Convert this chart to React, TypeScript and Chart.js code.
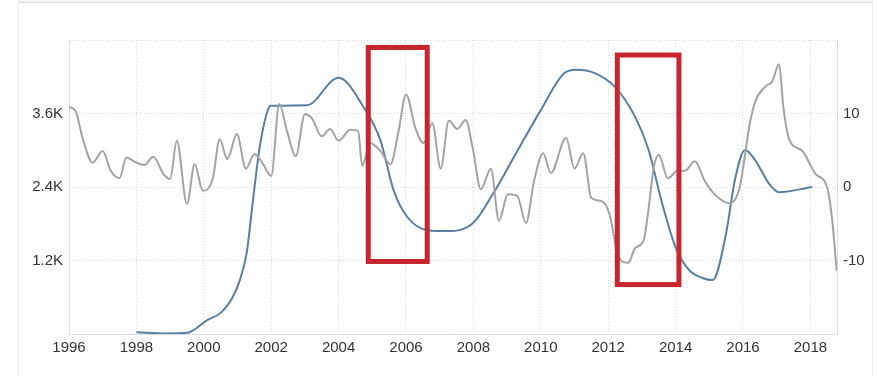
import React, { useEffect, useRef } from "react";
import { Chart, registerables } from "chart.js";

Chart.register(...registerables);

// Blue series (left axis, thousands)
const blueYears = [1998.0, 1998.9, 1999.5, 2000.1, 2000.5, 2000.86, 2001.07, 2001.27, 2001.47, 2001.66, 2001.87, 2001.98, 2003.06, 2004.0, 2004.73, 2005.24, 2005.63, 2006.04, 2006.64, 2007.24, 2008.0, 2008.6, 2009.2, 2010.0, 2010.7, 2011.05, 2011.6, 2012.2, 2012.8, 2013.2, 2013.6, 2014.0, 2014.4, 2014.8, 2015.1, 2015.5, 2015.76, 2016.06, 2016.36, 2016.76, 2017.07, 2018.06];
const blueValues = [30, 10, 20, 225, 345, 605, 880, 1315, 2235, 3055, 3605, 3725, 3735, 4185, 3715, 3165, 2350, 1910, 1695, 1680, 1815, 2305, 2885, 3655, 4260, 4315, 4260, 4035, 3545, 3005, 2135, 1415, 1045, 915, 880, 1645, 2515, 3005, 2840, 2465, 2315, 2400];

// Gray series (right axis)
const grayYears = [1996.0, 1996.2, 1996.4, 1996.7, 1997.0, 1997.24, 1997.5, 1997.7, 1998.0, 1998.24, 1998.5, 1998.8, 1999.0, 1999.2, 1999.5, 1999.73, 1999.97, 2000.27, 2000.47, 2000.7, 2000.98, 2001.25, 2001.5, 2001.76, 2002.0, 2002.24, 2002.47, 2002.73, 2003.0, 2003.2, 2003.5, 2003.75, 2004.0, 2004.35, 2004.58, 2004.7, 2004.94, 2005.24, 2005.54, 2005.78, 2006.0, 2006.28, 2006.52, 2006.78, 2007.03, 2007.27, 2007.52, 2007.77, 2007.98, 2008.22, 2008.52, 2008.76, 2009.02, 2009.3, 2009.56, 2009.8, 2010.07, 2010.3, 2010.75, 2011.0, 2011.26, 2011.5, 2011.8, 2012.04, 2012.24, 2012.4, 2012.6, 2012.8, 2013.05, 2013.2, 2013.35, 2013.5, 2013.77, 2014.06, 2014.27, 2014.57, 2014.87, 2015.16, 2015.6, 2015.9, 2016.2, 2016.37, 2016.67, 2016.87, 2017.07, 2017.2, 2017.37, 2017.76, 2018.15, 2018.5, 2018.65, 2018.78];
const grayValues = [10.9, 10.3, 6.7, 3.3, 4.9, 2.2, 1.2, 4.0, 3.3, 3.0, 4.1, 1.8, 1.1, 6.3, -2.3, 3.1, -0.5, 1.2, 6.5, 3.8, 7.2, 2.5, 4.5, 3.1, 1.5, 11.3, 7.6, 4.2, 9.9, 9.4, 6.9, 7.9, 6.3, 7.8, 7.6, 2.9, 6.0, 4.9, 3.1, 7.6, 12.6, 8.0, 6.0, 8.7, 2.5, 9.0, 7.9, 9.1, 5.3, -0.3, 2.5, -4.6, -1.0, -1.2, -4.9, 0.8, 4.6, 1.9, 6.7, 2.5, 4.6, -1.5, -1.9, -3.7, -8.3, -10.1, -10.3, -8.3, -7.3, -2.9, 2.6, 4.4, 1.2, 2.2, 2.2, 3.5, 0.8, -1.0, -2.2, -0.1, 8.6, 11.7, 13.7, 14.4, 16.7, 10.8, 6.5, 4.9, 1.8, -0.1, -4.6, -11.4];

// Axis ticks
const xTickYears = [1996, 1998, 2000, 2002, 2004, 2006, 2008, 2010, 2012, 2014, 2016, 2018];
const xMin = 1996;
const xMax = 2018.79;
const leftTicks = [0, 1200, 2400, 3600, 4800];
const rightTicks = [-20, -10, 0, 10, 20];

// Highlight boxes (data units: years / left-axis value)
const boxX1 = [2004.88, 2012.27];
const boxX2 = [2006.63, 2014.1];
const boxYTop = [4678, 4555];
const boxYBottom = [1184, 807];

const FONT = '"Liberation Sans", Arial, sans-serif';

const boxPlugin = {
  id: "boxes",
  afterDatasetsDraw(chart: any) {
    const { ctx, scales } = chart;
    const xs = scales.x;
    const ys = scales.y;
    ctx.save();
    ctx.strokeStyle = "#c8262e";
    ctx.lineWidth = 5;
    for (let i = 0; i < boxX1.length; i++) {
      const x1 = xs.getPixelForValue(boxX1[i]);
      const x2 = xs.getPixelForValue(boxX2[i]);
      const y1 = ys.getPixelForValue(boxYTop[i]);
      const y2 = ys.getPixelForValue(boxYBottom[i]);
      ctx.strokeRect(x1, y1, x2 - x1, y2 - y1);
    }
    ctx.restore();
  },
};

export default function App() {
  const ref = useRef<HTMLCanvasElement>(null);

  useEffect(() => {
    if (!ref.current) return;
    const blueData = blueYears.map((x, i) => ({ x, y: blueValues[i] }));
    const grayData = grayYears.map((x, i) => ({ x, y: grayValues[i] }));
    const chart = new Chart(ref.current, {
      type: "line",
      data: {
        datasets: [
          {
            data: grayData,
            yAxisID: "y1",
            borderColor: "#a3a3a3",
            borderWidth: 2,
            pointRadius: 0,
            cubicInterpolationMode: "monotone",
            fill: false,
          },
          {
            data: blueData,
            yAxisID: "y",
            borderColor: "#5a7fa3",
            borderWidth: 2,
            pointRadius: 0,
            cubicInterpolationMode: "monotone",
            fill: false,
          },
        ],
      },
      options: {
        responsive: false,
        animation: false,
        layout: { padding: { top: 40, left: 0, right: 0, bottom: 0 } },
        plugins: { legend: { display: false }, tooltip: { enabled: false } },
        scales: {
          x: {
            type: "linear",
            min: xMin,
            max: xMax,
            afterBuildTicks: (scale: any) => {
              scale.ticks = xTickYears.map((v) => ({ value: v }));
            },
            afterFit: (scale: any) => {
              scale.height = 42;
            },
            grid: { color: "#dadada", drawTicks: false },
            border: { display: true, color: "#dddddd", dash: [1, 2] },
            ticks: {
              autoSkip: false,
              maxRotation: 0,
              padding: 5,
              color: "#333333",
              font: { family: FONT, size: 15 },
              callback: (v: any) => String(v),
            },
          },
          y: {
            position: "left",
            min: 0,
            max: 4800,
            afterBuildTicks: (scale: any) => {
              scale.ticks = leftTicks.map((v) => ({ value: v }));
            },
            afterFit: (scale: any) => {
              scale.width = 69;
            },
            grid: { color: "#dadada", drawTicks: false },
            border: { display: true, color: "#dddddd", dash: [1, 2] },
            ticks: {
              padding: 6,
              color: "#333333",
              font: { family: FONT, size: 15 },
              callback: (v: any) => (v === 0 || v === 4800 ? "" : (v / 1000).toFixed(1) + "K"),
            },
          },
          y1: {
            position: "right",
            min: -20,
            max: 20,
            afterBuildTicks: (scale: any) => {
              scale.ticks = rightTicks.map((v) => ({ value: v }));
            },
            afterFit: (scale: any) => {
              scale.width = 40;
            },
            grid: { display: false, drawTicks: false },
            border: { display: true, color: "#dddddd" },
            ticks: {
              padding: 6,
              color: "#333333",
              font: { family: FONT, size: 15 },
              callback: (v: any) => (v === -20 || v === 20 ? "" : String(v)),
            },
          },
        },
      },
      plugins: [boxPlugin],
    } as any);
    return () => chart.destroy();
  }, []);

  return (
    <div style={{ position: "fixed", left: 0, top: 0, width: 877, height: 376, background: "#ffffff", overflow: "hidden" }}>
      <div style={{ position: "absolute", left: 18, top: -10, width: 854, height: 12, borderBottom: "1px solid #dcdcdc", background: "#f4f4f4" }} />
      <div style={{ position: "absolute", left: 18, top: -10, width: 853, height: 400, borderLeft: "1px solid #ececec", borderRight: "1px solid #ececec" }} />
      <canvas ref={ref} width={877} height={376} style={{ position: "absolute", left: 0, top: 0, width: 877, height: 376 }} />
    </div>
  );
}
